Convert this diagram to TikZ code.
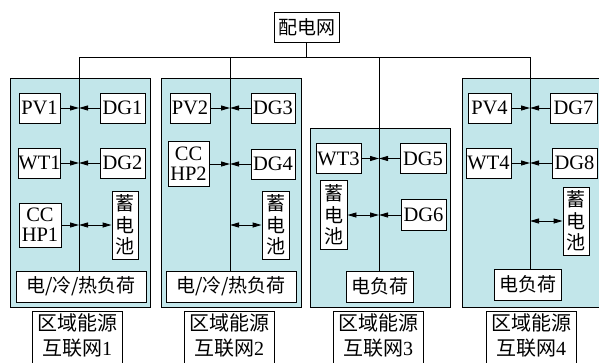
\documentclass[tikz,border=0pt]{standalone}
\usepackage{fontspec}
\setmainfont{Liberation Serif}
\newfontfamily\cjk{Noto Sans CJK SC}
\usetikzlibrary{arrows.meta}
\definecolor{regfill}{RGB}{194,230,234}
\begin{document}
\begin{tikzpicture}[x=1pt,y=-1pt,
  region/.style={draw, fill=regfill, line width=1pt, inner sep=0pt, minimum width=140pt},
  box/.style={draw, fill=white, line width=0.9pt, inner sep=0pt, align=center,
    font=\fontsize{20.5}{20}\selectfont},
  cbox/.style={box, font=\cjk\fontsize{19}{21.5}\selectfont},
  lab/.style={draw, fill=white, line width=0.9pt, align=center, anchor=north,
    inner xsep=3pt, inner ysep=2pt, minimum width=90pt, text depth=16pt,
    font=\fontsize{20}{25}\selectfont},
  wire/.style={line width=0.9pt},
  arr/.style={line width=0.9pt, -{Triangle[length=9pt,width=5pt]}},
  darr/.style={line width=0.9pt, {Triangle[length=9pt,width=5pt]}-{Triangle[length=9pt,width=5pt]}}
]
\useasboundingbox (0,0) rectangle (599,362);
\clip (0,0) rectangle (599,362);

% regions
\node[region, minimum height=229pt] (R1) at (80,192.5) {};
\node[region, minimum height=229pt] (R2) at (231,192.5) {};
\node[region, minimum height=179pt] (R3) at (380,217.5) {};
\node[region, minimum height=229pt] (R4) at (532,192.5) {};

% grid
\node[cbox, minimum width=65pt, minimum height=30pt] (grid) at (306.5,27) {配电网};
\coordinate (top) at (306.5,57);
\coordinate (b1) at (79,57);
\coordinate (b2) at (230,57);
\coordinate (b3) at (379,57);
\coordinate (b4) at (530,57);
\draw[wire] (grid.south) -- (top);
\draw[wire] (b1) -- (b4);

% region 1 nodes
\node[box, minimum width=41pt, minimum height=30pt] (PV1) at (39.5,108) {PV1};
\node[box, minimum width=45pt, minimum height=30pt] (DG1) at (122.5,108) {DG1};
\node[box, minimum width=41pt, minimum height=30pt] (WT1) at (39.5,163) {WT1};
\node[box, minimum width=45pt, minimum height=30pt] (DG2) at (122.5,163) {DG2};
\node[box, minimum width=42pt, minimum height=44pt] (CC1) at (40,225) {CC\\HP1};
\node[cbox, minimum width=26pt, minimum height=68pt] (S1) at (125,225) {蓄\\电\\池};
\node[box, minimum width=130pt, minimum height=31pt, font=\cjk\fontsize{19}{21}\selectfont] (L1) at (81,286.5) {电/冷/热负荷};
\node[lab] (N1) at (77,311) {{\cjk 区域能源}\\{\cjk 互联网}1};

% region 2 nodes
\node[box, minimum width=40pt, minimum height=30pt] (PV2) at (190,108) {PV2};
\node[box, minimum width=44pt, minimum height=30pt] (DG3) at (273,108) {DG3};
\node[box, minimum width=41pt, minimum height=45pt] (CC2) at (188.5,164) {CC\\HP2};
\node[box, minimum width=44pt, minimum height=30pt] (DG4) at (273,164) {DG4};
\node[cbox, minimum width=27pt, minimum height=68pt] (S2) at (275.5,225) {蓄\\电\\池};
\node[box, minimum width=130pt, minimum height=31pt, font=\cjk\fontsize{19}{21}\selectfont] (L2) at (231,286.5) {电/冷/热负荷};
\node[lab] (N2) at (229,311) {{\cjk 区域能源}\\{\cjk 互联网}2};

% region 3 nodes
\node[box, minimum width=45pt, minimum height=30pt] (WT3) at (338.5,158.5) {WT3};
\node[box, minimum width=46pt, minimum height=30pt] (DG5) at (423,158.5) {DG5};
\node[cbox, minimum width=27pt, minimum height=69pt] (S3) at (333.5,215) {蓄\\电\\池};
\node[box, minimum width=45pt, minimum height=31pt] (DG6) at (423.5,215) {DG6};
\node[cbox, minimum width=67pt, minimum height=31pt] (L3) at (379.5,286.5) {电负荷};
\node[lab] (N3) at (378,311) {{\cjk 区域能源}\\{\cjk 互联网}3};

% region 4 nodes
\node[box, minimum width=43pt, minimum height=30pt] (PV4) at (489.5,108) {PV4};
\node[box, minimum width=47pt, minimum height=30pt] (DG7) at (573.5,108) {DG7};
\node[box, minimum width=45pt, minimum height=30pt] (WT4) at (488.5,163) {WT4};
\node[box, minimum width=45pt, minimum height=30pt] (DG8) at (574.5,163) {DG8};
\node[cbox, minimum width=26pt, minimum height=68pt] (S4) at (576,221) {蓄\\电\\池};
\node[cbox, minimum width=67pt, minimum height=31pt] (L4) at (527.5,284.5) {电负荷};
\node[lab] (N4) at (531,311) {{\cjk 区域能源}\\{\cjk 互联网}4};

% bus verticals
\draw[wire] (b1) -- (b1 |- L1.north);
\draw[wire] (b2) -- (b2 |- L2.north);
\draw[wire] (b3) -- (b3 |- L3.north);
\draw[wire] (b4) -- (b4 |- L4.north);

% arrows region 1
\draw[arr] (PV1.east) -- (PV1.east -| b1);
\draw[arr] (DG1.west) -- (DG1.west -| b1);
\draw[arr] (WT1.east) -- (WT1.east -| b1);
\draw[arr] (DG2.west) -- (DG2.west -| b1);
\draw[arr] (CC1.east) -- (CC1.east -| b1);
\draw[darr] (S1.west -| b1) -- (S1.west);

% arrows region 2
\draw[arr] (PV2.east) -- (PV2.east -| b2);
\draw[arr] (DG3.west) -- (DG3.west -| b2);
\draw[arr] (CC2.east) -- (CC2.east -| b2);
\draw[arr] (DG4.west) -- (DG4.west -| b2);
\draw[darr] (S2.west -| b2) -- (S2.west);

% arrows region 3
\draw[arr] (WT3.east) -- (WT3.east -| b3);
\draw[arr] (DG5.west) -- (DG5.west -| b3);
\draw[darr] (S3.east) -- (S3.east -| b3);
\draw[arr] (DG6.west) -- (DG6.west -| b3);

% arrows region 4
\draw[arr] (PV4.east) -- (PV4.east -| b4);
\draw[arr] (DG7.west) -- (DG7.west -| b4);
\draw[arr] (WT4.east) -- (WT4.east -| b4);
\draw[arr] (DG8.west) -- (DG8.west -| b4);
\draw[darr] (S4.west -| b4) -- (S4.west);
\end{tikzpicture}
\end{document}
